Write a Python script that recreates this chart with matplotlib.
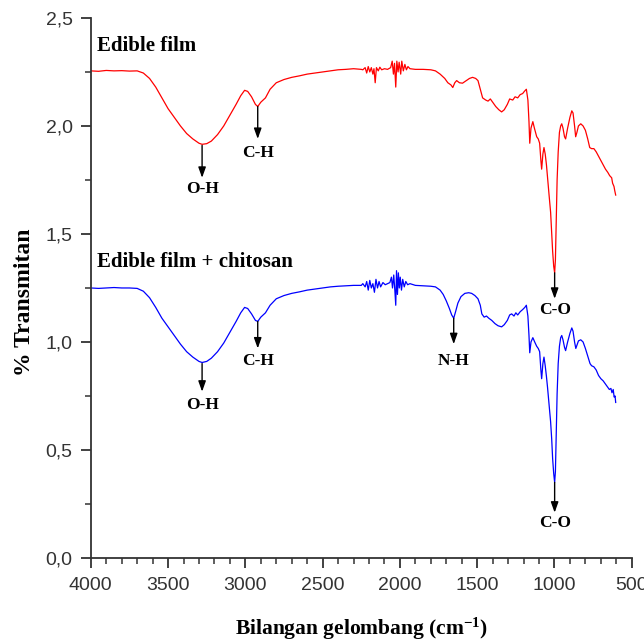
import matplotlib.pyplot as plt
from matplotlib.ticker import MultipleLocator

plt.rcParams['mathtext.fontset'] = 'custom'
plt.rcParams['mathtext.rm'] = 'Liberation Serif:bold'
plt.rcParams['mathtext.it'] = 'Liberation Serif:bold'

# Edible film (red)
wn_film = [4000, 3950, 3900, 3850, 3800, 3750, 3700, 3660, 3620, 3580, 3540, 3500, 3460, 3420, 3380,
           3340, 3300, 3280, 3250, 3220, 3180, 3140, 3100, 3060, 3030, 3005, 2985, 2960, 2935, 2920,
           2900, 2870, 2840, 2800, 2750, 2700, 2650, 2600, 2550, 2500, 2450, 2400, 2350, 2300, 2250,
           2240, 2225, 2215, 2205, 2195, 2185, 2175, 2168, 2160, 2152, 2140, 2130, 2118, 2100, 2080,
           2060, 2050, 2042, 2035, 2027, 2020, 2012, 2005, 1995, 1988, 1978, 1968, 1958, 1948, 1935,
           1900, 1850, 1800, 1770, 1740, 1710, 1690, 1670, 1658, 1645, 1633, 1615, 1595, 1570, 1550,
           1530, 1510, 1495, 1480, 1465, 1445, 1430, 1415, 1400, 1380, 1360, 1342, 1325, 1305, 1290,
           1270, 1255, 1238, 1222, 1206, 1195, 1182, 1172, 1165, 1160, 1152, 1140, 1130, 1115, 1105,
           1096, 1088, 1083, 1075, 1068, 1060, 1052, 1045, 1035, 1025, 1018, 1012, 1005, 999, 994,
           989, 983, 976, 968, 960, 953, 945, 935, 928, 915, 900, 888, 880, 870, 863,
           855, 845, 830, 815, 800, 785, 772, 760, 745, 730, 715, 700, 685, 670, 655,
           643, 630, 624, 615, 610, 604]
t_film = [2.255, 2.253, 2.257, 2.255, 2.256, 2.254, 2.255, 2.245, 2.22, 2.18, 2.13, 2.08, 2.04, 2.00, 1.965,
          1.94, 1.92, 1.915, 1.918, 1.93, 1.96, 2.00, 2.05, 2.10, 2.14, 2.165, 2.16, 2.135, 2.10, 2.09,
          2.11, 2.13, 2.17, 2.20, 2.215, 2.225, 2.232, 2.24, 2.245, 2.25, 2.255, 2.26, 2.262, 2.265, 2.262,
          2.26, 2.27, 2.245, 2.275, 2.25, 2.27, 2.24, 2.265, 2.20, 2.27, 2.255, 2.272, 2.26, 2.265, 2.262,
          2.27, 2.30, 2.24, 2.29, 2.18, 2.30, 2.25, 2.295, 2.24, 2.30, 2.255, 2.285, 2.26, 2.275, 2.265,
          2.262, 2.262, 2.26, 2.255, 2.24, 2.22, 2.20, 2.19, 2.178, 2.20, 2.21, 2.20, 2.198, 2.21, 2.22,
          2.225, 2.22, 2.21, 2.17, 2.13, 2.12, 2.115, 2.125, 2.11, 2.09, 2.075, 2.065, 2.075, 2.10, 2.125,
          2.12, 2.135, 2.13, 2.145, 2.15, 2.16, 2.17, 2.12, 2.02, 1.92, 1.99, 2.02, 1.99, 1.95, 1.94,
          1.92, 1.84, 1.80, 1.87, 1.90, 1.87, 1.82, 1.76, 1.68, 1.60, 1.50, 1.42, 1.35, 1.32, 1.38,
          1.55, 1.75, 1.88, 1.97, 2.00, 2.01, 1.99, 1.95, 1.94, 1.99, 2.04, 2.07, 2.06, 2.00, 1.95,
          1.97, 2.00, 2.01, 2.00, 1.98, 1.94, 1.90, 1.895, 1.895, 1.88, 1.86, 1.84, 1.82, 1.80, 1.785,
          1.77, 1.76, 1.735, 1.72, 1.70, 1.68]

# Edible film + chitosan (blue)
wn_chit = [4000, 3950, 3900, 3850, 3800, 3750, 3700, 3660, 3620, 3580, 3540, 3500, 3460, 3420, 3380,
           3340, 3300, 3280, 3250, 3220, 3180, 3140, 3100, 3060, 3030, 3005, 2985, 2960, 2935, 2920,
           2900, 2870, 2840, 2800, 2750, 2700, 2650, 2600, 2550, 2500, 2450, 2400, 2350, 2300, 2250,
           2240, 2225, 2215, 2205, 2195, 2185, 2175, 2165, 2155, 2145, 2135, 2125, 2110, 2095, 2080,
           2065, 2055, 2048, 2040, 2033, 2027, 2022, 2016, 2010, 2004, 1998, 1990, 1982, 1972, 1962,
           1950, 1935, 1900, 1850, 1800, 1770, 1740, 1720, 1700, 1680, 1665, 1652, 1640, 1625, 1605,
           1580, 1555, 1536, 1515, 1495, 1480, 1470, 1455, 1440, 1425, 1406, 1385, 1365, 1342, 1325,
           1305, 1290, 1277, 1262, 1250, 1238, 1222, 1206, 1192, 1182, 1172, 1165, 1160, 1152, 1140,
           1128, 1115, 1105, 1096, 1088, 1083, 1075, 1068, 1060, 1052, 1045, 1035, 1025, 1018, 1012,
           1005, 999, 994, 989, 983, 976, 968, 960, 953, 945, 935, 928, 915, 900, 888,
           880, 870, 862, 855, 845, 830, 815, 800, 785, 770, 760, 745, 730, 715, 700,
           685, 670, 655, 645, 635, 628, 620, 614, 608, 604]
t_chit = [1.25, 1.248, 1.25, 1.252, 1.25, 1.25, 1.248, 1.235, 1.205, 1.16, 1.11, 1.07, 1.03, 0.99, 0.955,
          0.93, 0.91, 0.905, 0.91, 0.925, 0.955, 0.995, 1.045, 1.095, 1.135, 1.16, 1.155, 1.13, 1.10, 1.095,
          1.115, 1.135, 1.17, 1.20, 1.215, 1.225, 1.232, 1.24, 1.245, 1.25, 1.255, 1.258, 1.26, 1.262, 1.262,
          1.27, 1.255, 1.28, 1.24, 1.285, 1.25, 1.27, 1.23, 1.29, 1.25, 1.28, 1.255, 1.275, 1.265, 1.27,
          1.275, 1.30, 1.25, 1.31, 1.24, 1.17, 1.33, 1.22, 1.32, 1.25, 1.30, 1.24, 1.29, 1.255, 1.28,
          1.265, 1.27, 1.262, 1.26, 1.258, 1.255, 1.24, 1.22, 1.19, 1.155, 1.125, 1.11, 1.14, 1.18, 1.21,
          1.225, 1.228, 1.225, 1.215, 1.20, 1.17, 1.13, 1.115, 1.12, 1.11, 1.10, 1.085, 1.075, 1.07, 1.08,
          1.10, 1.125, 1.13, 1.12, 1.135, 1.125, 1.14, 1.15, 1.16, 1.17, 1.12, 1.03, 0.95, 1.00, 1.02,
          1.00, 0.98, 0.97, 0.955, 0.87, 0.83, 0.90, 0.93, 0.89, 0.84, 0.79, 0.71, 0.63, 0.55, 0.46,
          0.39, 0.35, 0.40, 0.57, 0.76, 0.90, 0.98, 1.02, 1.03, 1.01, 0.975, 0.96, 1.00, 1.04, 1.065,
          1.05, 1.00, 0.97, 0.985, 1.005, 1.01, 1.00, 0.97, 0.935, 0.90, 0.89, 0.885, 0.87, 0.845, 0.83,
          0.82, 0.805, 0.79, 0.78, 0.785, 0.765, 0.78, 0.745, 0.75, 0.72]

# band annotations: (label, wavenumber, arrow start, arrow end, text y)
bands = [
    ('O-H', 3280, 1.91, 1.76, 1.71),
    ('C-H', 2920, 2.09, 1.94, 1.875),
    ('C-O', 999, 1.32, 1.20, 1.15),
    ('O-H', 3280, 0.90, 0.77, 0.71),
    ('C-H', 2920, 1.095, 0.97, 0.91),
    ('N-H', 1652, 1.11, 0.99, 0.91),
    ('C-O', 999, 0.35, 0.21, 0.16),
]
series_labels = [('Edible film', 2.37), ('Edible film + chitosan', 1.37)]

x_ticks = [4000, 3500, 3000, 2500, 2000, 1500, 1000, 500]
y_ticks = [0.0, 0.5, 1.0, 1.5, 2.0, 2.5]
y_labels = ['0,0', '0,5', '1,0', '1,5', '2,0', '2,5']

serif = 'Liberation Serif'
tickfont = ['Liberation Sans Narrow', 'Liberation Sans']

fig = plt.figure(figsize=(6.44, 6.41), dpi=100)
ax = fig.add_axes([0.141, 0.1295, 0.84, 0.8425])

ax.plot(wn_film, t_film, color='#ff0000', lw=0.9)
ax.plot(wn_chit, t_chit, color='#0000ff', lw=0.9)

for lab, x, y0, y1, yt in bands:
    ax.annotate('', xy=(x, y1), xytext=(x, y0),
                arrowprops=dict(arrowstyle='-|>,head_width=0.25,head_length=0.7',
                                color='black', lw=1, mutation_scale=9, shrinkA=0, shrinkB=0))
    ax.text(x, yt, lab, ha='center', va='center', fontsize=12.5,
            fontweight='bold', family=serif)

for lab, y in series_labels:
    ax.text(3962, y, lab, ha='left', va='center', fontsize=15,
            fontweight='bold', family=serif)

ax.set_xlim(4000, 500)
ax.set_ylim(0, 2.5)
ax.set_xticks(x_ticks)
ax.set_yticks(y_ticks)
ax.set_yticklabels(y_labels)
ax.xaxis.set_minor_locator(MultipleLocator(100))
ax.yaxis.set_minor_locator(MultipleLocator(0.25))

for side in ['top', 'right']:
    ax.spines[side].set_visible(False)
for side in ['left', 'bottom']:
    ax.spines[side].set_color('#333333')
    ax.spines[side].set_linewidth(1.3)

ax.tick_params(which='major', direction='out', length=7, width=1.3, color='#333333',
               labelsize=14, labelcolor='#333333')
ax.tick_params(axis='x', which='major', pad=7)
ax.tick_params(axis='y', which='major', pad=6)
ax.tick_params(which='minor', direction='out', length=4, width=1.1, color='#333333')
for lbl in ax.get_xticklabels() + ax.get_yticklabels():
    lbl.set_family(tickfont)

ax.set_xlabel(r'Bilangan gelombang (cm$^{-1}$)', fontsize=15.5, fontweight='bold', family=serif)
ax.set_ylabel('% Transmitan', fontsize=17, fontweight='bold', family=serif)
ax.xaxis.set_label_coords(0.5, -0.107)
ax.yaxis.set_label_coords(-0.103, 0.474)

fig.savefig('out.png', dpi=100)
